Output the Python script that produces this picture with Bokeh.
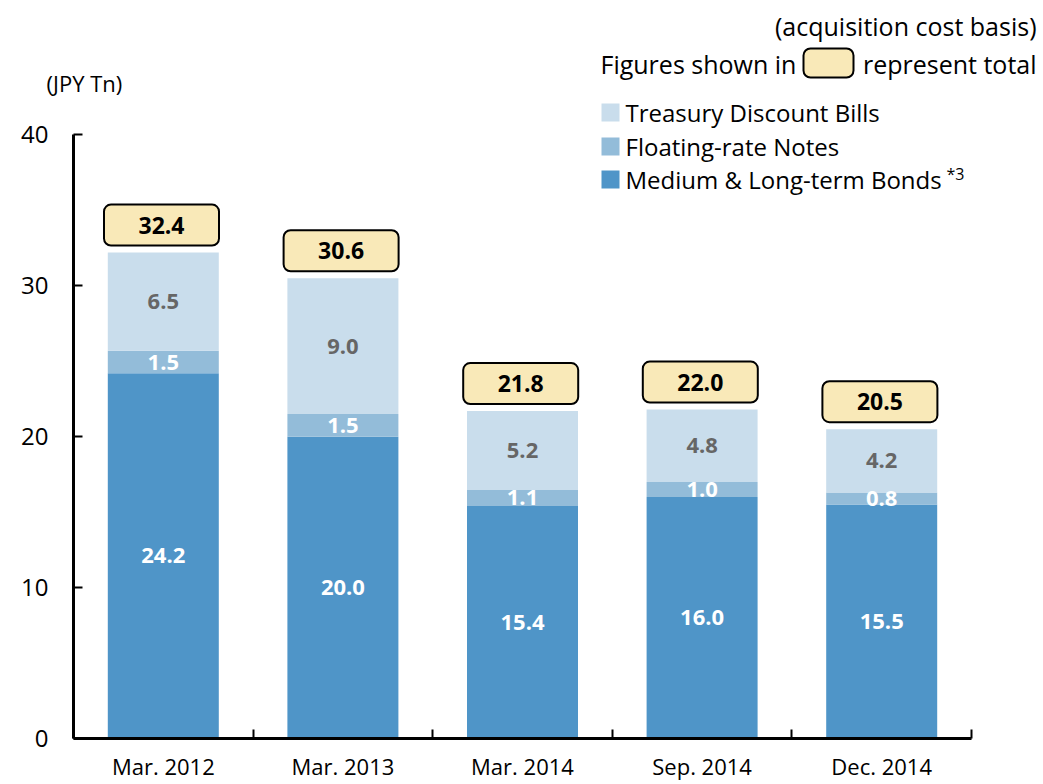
from bokeh.plotting import figure
from bokeh.models import Range1d, FixedTicker, Quad
from bokeh.core.properties import value
from bokeh.embed import file_html
from bokeh.resources import INLINE

# ---------------- data ----------------
categories = ["Mar. 2012", "Mar. 2013", "Mar. 2014", "Sep. 2014", "Dec. 2014"]
bonds = [24.2, 20.0, 15.4, 16.0, 15.5]          # Medium & Long-term Bonds
frn = [1.5, 1.5, 1.1, 1.0, 0.8]                 # Floating-rate Notes
tdb = [6.5, 9.0, 5.2, 4.8, 4.2]                 # Treasury Discount Bills
totals = [32.4, 30.6, 21.8, 22.0, 20.5]
y_ticks = [0, 10, 20, 30, 40]
series_names = ["Treasury Discount Bills", "Floating-rate Notes", "Medium & Long-term Bonds"]
unit_label = "(JPY Tn)"
basis_note = "(acquisition cost basis)"
note_left = "Figures shown in"
note_right = "represent total"
footnote_mark = "*3"

# ---------------- style / layout ----------------
C_DARK = "#4f95c8"
C_MID = "#93bcd9"
C_LIGHT = "#c9ddec"
C_BOX = "#f9e9b8"
FONT = "Open Sans"

FIG_W, FIG_H = 1043, 784
PX_X = 179.6                 # px per category
PX_Y = 15.09                 # px per JPY Tn
PAGE_X0, PAGE_Y0 = 73, 738   # page position of the data origin


def dx(px):
    return (px - PAGE_X0) / PX_X


def dy(py):
    return (PAGE_Y0 - py) / PX_Y


p = figure(width=FIG_W, height=FIG_H,
           x_range=Range1d(dx(0), dx(FIG_W)), y_range=Range1d(dy(FIG_H), dy(0)),
           output_backend="svg", toolbar_location=None,
           min_border_left=0, min_border_right=0, min_border_top=0, min_border_bottom=0)
p.outline_line_color = None
p.grid.visible = False
p.background_fill_color = "white"
p.border_fill_color = "white"

n = len(categories)
xc = [i + 0.5 for i in range(n)]

# category axis, fixed at y = 0 inside the frame
xa = p.xaxis[0]
xa.fixed_location = 0
xa.ticker = FixedTicker(ticks=xc, minor_ticks=list(range(n + 1)))
xa.major_label_overrides = {x: c for x, c in zip(xc, categories)}
xa.bounds = (0, n)
xa.major_tick_in = 0
xa.major_tick_out = 0
xa.minor_tick_in = 9
xa.minor_tick_out = 0
xa.minor_tick_line_width = 2
xa.minor_tick_line_color = "black"
xa.axis_line_width = 3
xa.axis_line_color = "black"
xa.major_label_text_font = FONT
xa.major_label_text_font_size = "22px"
xa.major_label_text_color = "black"
xa.major_label_standoff = 12

# value axis, fixed at x = 0 inside the frame
ya = p.yaxis[0]
ya.fixed_location = 0
ya.ticker = FixedTicker(ticks=y_ticks, minor_ticks=[])
ya.bounds = (0, 40)
ya.major_tick_in = 9
ya.major_tick_out = 0
ya.major_tick_line_width = 2
ya.major_tick_line_color = "black"
ya.minor_tick_in = 0
ya.minor_tick_out = 0
ya.axis_line_width = 3
ya.axis_line_color = "black"
ya.major_label_text_font = FONT
ya.major_label_text_font_size = "24px"
ya.major_label_text_color = "black"
ya.major_label_standoff = 25

# stacked bars
bw = 111 / PX_X
b1 = [0] * n
t1 = bonds
b2 = t1
t2 = [a + b for a, b in zip(t1, frn)]
b3 = t2
t3 = [a + b for a, b in zip(t2, tdb)]
p.vbar(x=xc, width=bw, bottom=b1, top=t1, fill_color=C_DARK, line_color=None)
p.vbar(x=xc, width=bw, bottom=b2, top=t2, fill_color=C_MID, line_color=None)
p.vbar(x=xc, width=bw, bottom=b3, top=t3, fill_color=C_LIGHT, line_color=None)

lab_kw = dict(text_align="center", text_baseline="middle", text_font=value(FONT),
              text_font_style="bold", text_font_size=value("22px"))
p.text(x=xc, y=[(a + b) / 2 for a, b in zip(b1, t1)], text=[f"{v:.1f}" for v in bonds],
       text_color="white", **lab_kw)
p.text(x=xc, y=[(a + b) / 2 for a, b in zip(b2, t2)], text=[f"{v:.1f}" for v in frn],
       text_color="white", **lab_kw)
p.text(x=xc, y=[(a + b) / 2 for a, b in zip(b3, t3)], text=[f"{v:.1f}" for v in tdb],
       text_color="#666666", **lab_kw)

# total boxes
box_kw = dict(fill_color=C_BOX, line_color="black", line_width=2)
if "border_radius" in Quad.properties():
    box_kw["border_radius"] = 7
bx_w = 115 / PX_X
bx_h = 41 / PX_Y
gap = 7 / PX_Y
shift = -0.01
box_b = [t + gap for t in t3]
p.quad(left=[x + shift - bx_w / 2 for x in xc], right=[x + shift + bx_w / 2 for x in xc],
       bottom=box_b, top=[b + bx_h for b in box_b], **box_kw)
p.text(x=[x + shift for x in xc], y=[b + bx_h / 2 for b in box_b],
       text=[f"{v:.1f}" for v in totals],
       text_color="black", text_align="center", text_baseline="middle", text_font=value(FONT),
       text_font_style="bold", text_font_size=value("23px"))

# header notes
hdr_kw = dict(text_font=value(FONT), text_font_size=value("25px"), text_color="black",
              text_baseline="middle")
p.text(x=[dx(1036)], y=[dy(25)], text=[basis_note], text_align="right", **hdr_kw)
p.text(x=[dx(600)], y=[dy(63)], text=[note_left], text_align="left", **hdr_kw)
p.quad(left=[dx(803)], right=[dx(853)], bottom=[dy(77)], top=[dy(48)], **box_kw)
p.text(x=[dx(1036)], y=[dy(63)], text=[note_right], text_align="right", **hdr_kw)

# legend
leg_colors = [C_LIGHT, C_MID, C_DARK]
leg_rows = [112, 146, 179]
p.quad(left=[dx(601)] * 3, right=[dx(619)] * 3,
       bottom=[dy(r + 9) for r in leg_rows], top=[dy(r - 9) for r in leg_rows],
       fill_color=leg_colors, line_color=None)
p.text(x=[dx(625)] * 3, y=[dy(r) for r in leg_rows], text=series_names, text_align="left",
       text_font=value(FONT), text_font_size=value("24px"), text_color="black",
       text_baseline="middle")
p.text(x=[dx(946)], y=[dy(173)], text=[footnote_mark], text_align="left",
       text_font=value(FONT), text_font_size=value("16px"), text_color="black",
       text_baseline="middle")

# unit label
p.text(x=[dx(46)], y=[dy(82)], text=[unit_label], text_align="left", text_baseline="middle",
       text_font=value(FONT), text_font_size=value("22px"), text_color="black")

open("out.html", "w").write(file_html(p, INLINE))
